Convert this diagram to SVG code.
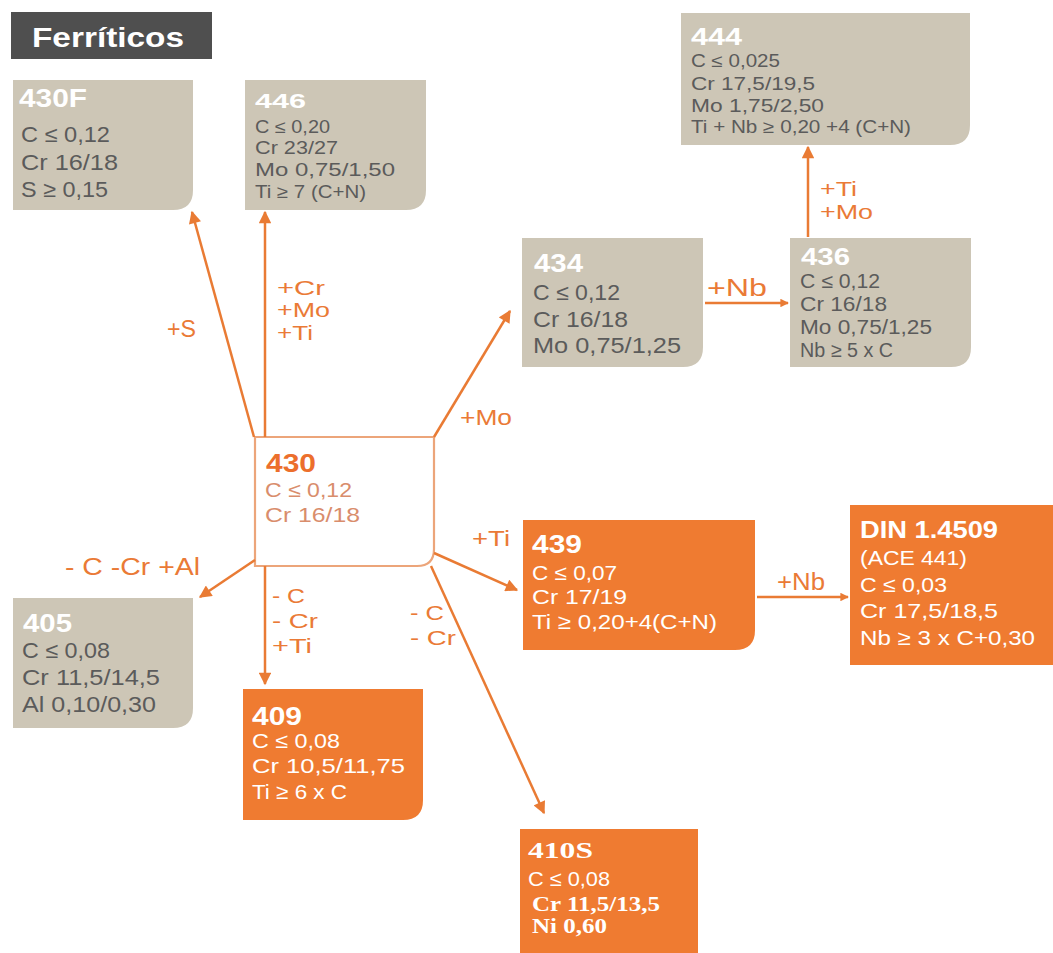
<svg xmlns="http://www.w3.org/2000/svg" width="1053" height="953" viewBox="0 0 1053 953">
<defs>
<style>
text{font-family:"Liberation Sans","Arial",sans-serif}
.bg{fill:#cdc6b6}
.or{fill:#ef7b31}
.t{font-weight:bold;fill:#ffffff;font-size:25px}
.g{fill:#5b5b5b}
.w{fill:#ffffff}
.L{font-size:22px}
.M{font-size:20px}
.S{font-size:18px}
.lb{fill:#ea7a36;font-size:21px}
.cn{stroke:#e97b34;stroke-width:2.5;fill:none}
.ser{font-family:"Liberation Serif","DejaVu Serif",serif;font-weight:bold}
</style>
<marker id="ah" viewBox="0 0 10 10" refX="9" refY="5" markerWidth="5.5" markerHeight="5" orient="auto" markerUnits="strokeWidth">
<path d="M0,0 L10,5 L0,10 z" fill="#e97b34"/>
</marker>
<marker id="ah2" viewBox="0 0 10 10" refX="9" refY="5" markerWidth="3.6" markerHeight="3.4" orient="auto" markerUnits="strokeWidth">
<path d="M0,0 L10,5 L0,10 z" fill="#e97b34"/>
</marker>
</defs>
<rect width="1053" height="953" fill="#ffffff"/>

<g id="header">
<rect x="11" y="12" width="201" height="47" fill="#4f4f4f"/>
<text x="32" y="47" style="font-size:28px" font-weight="bold" fill="#ffffff" textLength="152" lengthAdjust="spacingAndGlyphs">Ferríticos</text>
</g>

<g id="n430F">
<path class="bg" d="M13,80 H193 V190 Q193,210 173,210 H13 Z"/>
<text x="19" y="107" class="t" textLength="68" lengthAdjust="spacingAndGlyphs">430F</text>
<text x="21" y="142" class="g L" textLength="89" lengthAdjust="spacingAndGlyphs">C ≤ 0,12</text>
<text x="21" y="170" class="g L" textLength="97" lengthAdjust="spacingAndGlyphs">Cr 16/18</text>
<text x="21" y="197" class="g L" textLength="87" lengthAdjust="spacingAndGlyphs">S ≥ 0,15</text>
</g>

<g id="n446">
<path class="bg" d="M245,80 H426 V190 Q426,210 406,210 H245 Z"/>
<text x="255" y="108" class="t" style="font-size:21px" textLength="51" lengthAdjust="spacingAndGlyphs">446</text>
<text x="255" y="133" class="g S" textLength="75" lengthAdjust="spacingAndGlyphs">C ≤ 0,20</text>
<text x="255" y="154" class="g S" textLength="83" lengthAdjust="spacingAndGlyphs">Cr 23/27</text>
<text x="255" y="176" class="g S" textLength="140" lengthAdjust="spacingAndGlyphs">Mo 0,75/1,50</text>
<text x="255" y="198" class="g S" textLength="111" lengthAdjust="spacingAndGlyphs">Ti ≥ 7 (C+N)</text>
</g>

<g id="n444">
<path class="bg" d="M681,13 H970 V125 Q970,145 950,145 H681 Z"/>
<text x="691" y="45" class="t" style="font-size:23px" textLength="51" lengthAdjust="spacingAndGlyphs">444</text>
<text x="691" y="67" class="g S" textLength="89" lengthAdjust="spacingAndGlyphs">C ≤ 0,025</text>
<text x="691" y="90" class="g S" textLength="124" lengthAdjust="spacingAndGlyphs">Cr 17,5/19,5</text>
<text x="691" y="112" class="g S" textLength="133" lengthAdjust="spacingAndGlyphs">Mo 1,75/2,50</text>
<text x="691" y="133" class="g S" textLength="220" lengthAdjust="spacingAndGlyphs">Ti + Nb ≥ 0,20 +4 (C+N)</text>
</g>

<g id="n434">
<path class="bg" d="M522,238 H703 V347 Q703,367 683,367 H522 Z"/>
<text x="534" y="272" class="t" textLength="49" lengthAdjust="spacingAndGlyphs">434</text>
<text x="533" y="300" class="g L" textLength="87" lengthAdjust="spacingAndGlyphs">C ≤ 0,12</text>
<text x="533" y="327" class="g L" textLength="95" lengthAdjust="spacingAndGlyphs">Cr 16/18</text>
<text x="533" y="353" class="g L" textLength="148" lengthAdjust="spacingAndGlyphs">Mo 0,75/1,25</text>
</g>

<g id="n436">
<path class="bg" d="M790,238 H971 V347 Q971,367 951,367 H790 Z"/>
<text x="801" y="265" class="t" style="font-size:24px" textLength="49" lengthAdjust="spacingAndGlyphs">436</text>
<text x="800" y="288" class="g M" textLength="80" lengthAdjust="spacingAndGlyphs">C ≤ 0,12</text>
<text x="800" y="311" class="g M" textLength="87" lengthAdjust="spacingAndGlyphs">Cr 16/18</text>
<text x="800" y="334" class="g M" textLength="132" lengthAdjust="spacingAndGlyphs">Mo 0,75/1,25</text>
<text x="800" y="357" class="g M" textLength="93" lengthAdjust="spacingAndGlyphs">Nb ≥ 5 x C</text>
</g>

<g id="n430">
<path d="M255,437 H434 V549 Q434,566 417,566 H255 Z" fill="#ffffff" stroke="#eca57a" stroke-width="2.2"/>
<text x="266" y="472" style="font-size:26px" font-weight="bold" fill="#ec6f2c" textLength="50" lengthAdjust="spacingAndGlyphs">430</text>
<text x="265" y="497" fill="#d98d6c" style="font-size:20.5px" textLength="87" lengthAdjust="spacingAndGlyphs">C ≤ 0,12</text>
<text x="265" y="522" fill="#d98d6c" style="font-size:20.5px" textLength="95" lengthAdjust="spacingAndGlyphs">Cr 16/18</text>
</g>

<g id="n405">
<path class="bg" d="M13,598 H193 V708 Q193,728 173,728 H13 Z"/>
<text x="23" y="632" class="t" textLength="49" lengthAdjust="spacingAndGlyphs">405</text>
<text x="22" y="658" class="g L" textLength="88" lengthAdjust="spacingAndGlyphs">C ≤ 0,08</text>
<text x="22" y="685" class="g L" textLength="138" lengthAdjust="spacingAndGlyphs">Cr 11,5/14,5</text>
<text x="22" y="712" class="g L" textLength="134" lengthAdjust="spacingAndGlyphs">Al 0,10/0,30</text>
</g>

<g id="n409">
<path class="or" d="M243,689 H423 V800 Q423,820 403,820 H243 Z"/>
<text x="252" y="725" class="t" textLength="50" lengthAdjust="spacingAndGlyphs">409</text>
<text x="252" y="748" class="w" style="font-size:21px" textLength="88" lengthAdjust="spacingAndGlyphs">C ≤ 0,08</text>
<text x="252" y="773" class="w" style="font-size:21px" textLength="153" lengthAdjust="spacingAndGlyphs">Cr 10,5/11,75</text>
<text x="252" y="799" class="w" style="font-size:21px" textLength="95" lengthAdjust="spacingAndGlyphs">Ti ≥ 6 x C</text>
</g>

<g id="n439">
<path class="or" d="M523,520 H755 V630 Q755,650 735,650 H523 Z"/>
<text x="532" y="553" class="t" textLength="50" lengthAdjust="spacingAndGlyphs">439</text>
<text x="532" y="580" class="w" style="font-size:21px" textLength="85" lengthAdjust="spacingAndGlyphs">C ≤ 0,07</text>
<text x="532" y="604" class="w" style="font-size:21px" textLength="95" lengthAdjust="spacingAndGlyphs">Cr 17/19</text>
<text x="532" y="629" class="w" style="font-size:21px" textLength="185" lengthAdjust="spacingAndGlyphs">Ti ≥ 0,20+4(C+N)</text>
</g>

<g id="nDIN">
<rect class="or" x="850" y="505" width="203" height="160"/>
<text x="860" y="538" class="t" style="font-size:24px" textLength="138" lengthAdjust="spacingAndGlyphs">DIN 1.4509</text>
<text x="860" y="565" class="w" style="font-size:21px" textLength="107" lengthAdjust="spacingAndGlyphs">(ACE 441)</text>
<text x="860" y="592" class="w" style="font-size:21px" textLength="87" lengthAdjust="spacingAndGlyphs">C ≤ 0,03</text>
<text x="860" y="618" class="w" style="font-size:21px" textLength="138" lengthAdjust="spacingAndGlyphs">Cr 17,5/18,5</text>
<text x="860" y="645" class="w" style="font-size:21px" textLength="175" lengthAdjust="spacingAndGlyphs">Nb  ≥ 3 x C+0,30</text>
</g>

<g id="n410S">
<path class="or" d="M520,829 H698 V953 H520 Z"/>
<text x="528" y="858" class="ser w" style="font-size:24px" textLength="65" lengthAdjust="spacingAndGlyphs">410S</text>
<text x="528" y="886" class="w" style="font-size:21px" textLength="82" lengthAdjust="spacingAndGlyphs">C ≤ 0,08</text>
<text x="532" y="911" class="ser w" style="font-size:20px" textLength="128" lengthAdjust="spacingAndGlyphs">Cr 11,5/13,5</text>
<text x="532" y="933" class="ser w" style="font-size:20px" textLength="75" lengthAdjust="spacingAndGlyphs">Ni 0,60</text>
</g>

<g id="connectors">
<line class="cn" x1="254" y1="437" x2="192" y2="212" marker-end="url(#ah)"/>
<line class="cn" x1="265" y1="437" x2="265" y2="212" marker-end="url(#ah)"/>
<line class="cn" x1="434" y1="437" x2="510" y2="311" marker-end="url(#ah)"/>
<line class="cn" x1="705" y1="303" x2="788" y2="303" stroke-width="4" marker-end="url(#ah2)"/>
<line class="cn" x1="808" y1="237" x2="808" y2="147" marker-end="url(#ah)"/>
<line class="cn" x1="434" y1="553" x2="517" y2="590" marker-end="url(#ah)"/>
<line class="cn" x1="757" y1="597" x2="848" y2="597" stroke-width="3.5" marker-end="url(#ah2)"/>
<line class="cn" x1="255" y1="560" x2="200" y2="597" marker-end="url(#ah)"/>
<line class="cn" x1="265" y1="566" x2="265" y2="684" marker-end="url(#ah)"/>
<line class="cn" x1="431" y1="566" x2="544" y2="813" marker-end="url(#ah)"/>
<text class="lb" x="167" y="337" style="font-size:23px" textLength="29" lengthAdjust="spacingAndGlyphs">+S</text>
<text class="lb" x="277" y="295" textLength="48" lengthAdjust="spacingAndGlyphs">+Cr</text>
<text class="lb" x="277" y="317" textLength="53" lengthAdjust="spacingAndGlyphs">+Mo</text>
<text class="lb" x="277" y="340" textLength="36" lengthAdjust="spacingAndGlyphs">+Ti</text>
<text class="lb" x="460" y="425" style="font-size:22px" textLength="52" lengthAdjust="spacingAndGlyphs">+Mo</text>
<text class="lb" x="707" y="296" style="font-size:23px" textLength="60" lengthAdjust="spacingAndGlyphs">+Nb</text>
<text class="lb" x="820" y="196" textLength="37" lengthAdjust="spacingAndGlyphs">+Ti</text>
<text class="lb" x="820" y="219" textLength="53" lengthAdjust="spacingAndGlyphs">+Mo</text>
<text class="lb" x="472" y="546" style="font-size:22px" textLength="38" lengthAdjust="spacingAndGlyphs">+Ti</text>
<text class="lb" x="777" y="590" style="font-size:23px" textLength="48" lengthAdjust="spacingAndGlyphs">+Nb</text>
<text class="lb" x="65" y="575" style="font-size:23px" textLength="135" lengthAdjust="spacingAndGlyphs">- C  -Cr  +Al</text>
<text class="lb" x="272" y="603" textLength="33" lengthAdjust="spacingAndGlyphs">- C</text>
<text class="lb" x="272" y="628" textLength="46" lengthAdjust="spacingAndGlyphs">- Cr</text>
<text class="lb" x="272" y="653" textLength="40" lengthAdjust="spacingAndGlyphs">+Ti</text>
<text class="lb" x="410" y="620" textLength="34" lengthAdjust="spacingAndGlyphs">- C</text>
<text class="lb" x="410" y="645" textLength="46" lengthAdjust="spacingAndGlyphs">- Cr</text>
</g>
</svg>
